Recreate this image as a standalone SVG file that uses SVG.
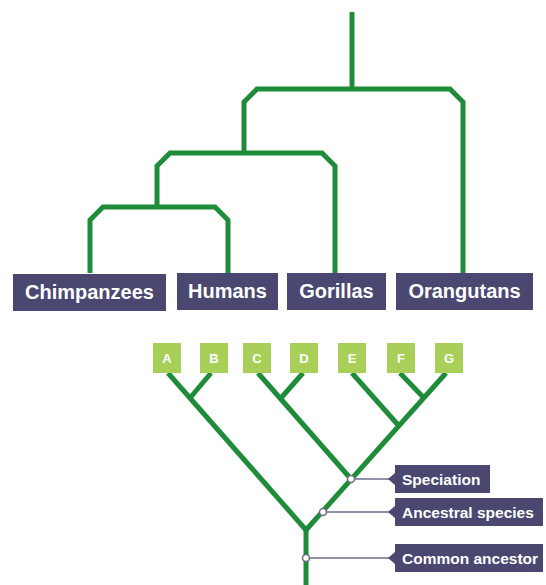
<svg xmlns="http://www.w3.org/2000/svg" width="546" height="585" viewBox="0 0 546 585">
  <style>
    .branch { fill: none; stroke: #1e8c38; stroke-width: 5; stroke-linejoin: miter; stroke-linecap: butt; }
    .taxon rect { fill: #4a4870; }
    .taxon text { fill: #ffffff; font-family: "Liberation Sans", Arial, sans-serif; font-weight: bold; font-size: 20px; text-anchor: middle; }
    .leaf rect { fill: #a8d058; }
    .leaf text { fill: #ffffff; font-family: "Liberation Sans", Arial, sans-serif; font-weight: bold; font-size: 13px; text-anchor: middle; }
    .callout path { fill: #4a4870; }
    .callout text { fill: #ffffff; font-family: "Liberation Sans", Arial, sans-serif; font-weight: bold; font-size: 15.5px; }
    .leader { stroke: #6d6a8c; stroke-width: 1.5; fill: none; }
    .dot { fill: #ffffff; stroke: #6d6a8c; stroke-width: 1.5; }
  </style>
  <rect width="546" height="585" fill="#ffffff"/>

  <!-- Great ape cladogram -->
  <g id="connectors">
    <path class="branch" d="M352 12 V89"/>
    <path class="branch" d="M244 153 V102 L257 89 H450 L463 102 V273"/>
    <path class="branch" d="M157 207 V166 L170 153 H322 L335 166 V273"/>
    <path class="branch" d="M90 273 V220 L103 207 H215 L228 220 V273"/>

    <!-- Speciation tree -->
    <path class="branch" d="M168 373 L306 530"/>
    <path class="branch" d="M211 373 L190 398"/>
    <path class="branch" d="M258 373 L351 479"/>
    <path class="branch" d="M303 373 L281 398"/>
    <path class="branch" d="M446 373 L306 530"/>
    <path class="branch" d="M400 373 L424 398"/>
    <path class="branch" d="M352 373 L399 426"/>
    <path class="branch" d="M306 528 V585"/>

    <!-- Leader lines to callouts -->
    <line class="leader" x1="354" y1="479" x2="392" y2="479"/>
    <line class="leader" x1="326" y1="512" x2="392" y2="512"/>
    <line class="leader" x1="309" y1="558" x2="392" y2="558"/>
  </g>

  <g id="chimpanzees" class="taxon">
    <rect x="13" y="274" width="153" height="37"/>
    <text x="89.5" y="299">Chimpanzees</text>
  </g>
  <g id="humans" class="taxon">
    <rect x="177" y="273" width="101" height="37"/>
    <text x="227.5" y="298">Humans</text>
  </g>
  <g id="gorillas" class="taxon">
    <rect x="287" y="273" width="99" height="37"/>
    <text x="336.5" y="298">Gorillas</text>
  </g>
  <g id="orangutans" class="taxon">
    <rect x="396" y="273" width="137" height="37"/>
    <text x="464.5" y="298">Orangutans</text>
  </g>

  <g id="leaf-a" class="leaf"><rect x="153" y="343" width="28" height="30"/><text x="167" y="363">A</text></g>
  <g id="leaf-b" class="leaf"><rect x="200" y="343" width="28" height="30"/><text x="214" y="363">B</text></g>
  <g id="leaf-c" class="leaf"><rect x="243" y="343" width="28" height="30"/><text x="257" y="363">C</text></g>
  <g id="leaf-d" class="leaf"><rect x="290" y="343" width="28" height="30"/><text x="304" y="363">D</text></g>
  <g id="leaf-e" class="leaf"><rect x="338" y="343" width="28" height="30"/><text x="352" y="363">E</text></g>
  <g id="leaf-f" class="leaf"><rect x="387" y="343" width="28" height="30"/><text x="401" y="363">F</text></g>
  <g id="leaf-g" class="leaf"><rect x="435" y="343" width="28" height="30"/><text x="449" y="363">G</text></g>

  <g id="speciation-node">
    <circle class="dot" cx="351" cy="479" r="3.5"/>
  </g>
  <g id="ancestral-node">
    <circle class="dot" cx="323" cy="512" r="3.5"/>
  </g>
  <g id="common-node">
    <circle class="dot" cx="306" cy="558" r="3.5"/>
  </g>

  <g id="speciation-label" class="callout">
    <path d="M395 465 H490 V493 H395 V485 L388 479 L395 473 Z"/>
    <text x="402" y="484.5">Speciation</text>
  </g>
  <g id="ancestral-label" class="callout">
    <path d="M395 498 H543 V526 H395 V518 L388 512 L395 506 Z"/>
    <text x="402" y="517.5">Ancestral species</text>
  </g>
  <g id="common-label" class="callout">
    <path d="M395 544 H543 V572 H395 V564 L388 558 L395 552 Z"/>
    <text x="402" y="563.5">Common ancestor</text>
  </g>
</svg>
